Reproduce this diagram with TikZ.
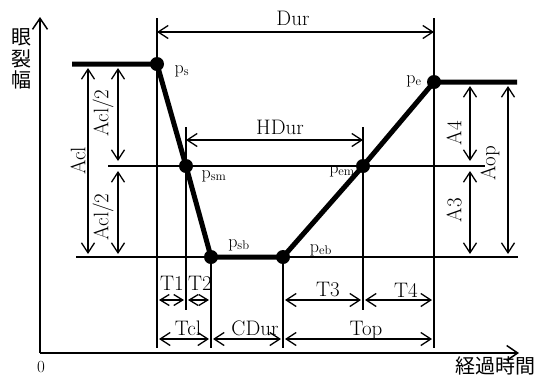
\documentclass[tikz,border=0pt]{standalone}
\usepackage{fontspec}
\newfontfamily\jpfont{Noto Sans CJK JP}
\usetikzlibrary{arrows.meta}
\begin{document}
\begin{tikzpicture}[x=1pt,y=-1pt,
  guide/.style={line width=1.3pt},
  curvethick/.style={line width=5pt,line join=round},
  axisline/.style={line width=1.5pt,-{Straight Barb[length=11pt,width=15pt]}},
  dim/.style={line width=1.3pt,{Straight Barb[length=10pt,width=13pt]}-{Straight Barb[length=10pt,width=13pt]}},
  smalldim/.style={line width=1.3pt,{Straight Barb[length=9pt,width=11pt]}-{Straight Barb[length=9pt,width=11pt]}},
  dot/.style={circle,fill=black,inner sep=0pt,minimum size=14pt},
  lbl/.style={font=\fontsize{21}{21}\selectfont,inner sep=0pt},
  plbl/.style={font=\fontsize{18}{18}\selectfont,inner sep=0pt},
  jplbl/.style={font=\jpfont\fontsize{20}{21.5}\selectfont,inner sep=0pt}]
\useasboundingbox (0,0) rectangle (538,376);
% key points
\coordinate (L) at (72,64);
\coordinate (ps) at (157,64);
\coordinate (psm) at (186,166);
\coordinate (psb) at (211,257);
\coordinate (peb) at (283,257);
\coordinate (pem) at (363,166);
\coordinate (pe) at (434,82);
\coordinate (R) at (517,82);
% helper levels
\coordinate (yTop) at (0,18);
\coordinate (yBot) at (0,348);
\coordinate (yDur) at (0,32);
\coordinate (yHtop) at (0,127);
\coordinate (yH) at (0,140);
\coordinate (yTend) at (0,310);
\coordinate (yT) at (0,300);
\coordinate (yTT) at (0,339);
\coordinate (mL) at (108,166);
\coordinate (mR) at (485,166);
\coordinate (bL) at (76,257);
\coordinate (bR) at (518,257);
% axes
\coordinate (O) at (40,353);
\coordinate (Ytip) at (40,17);
\coordinate (Xtip) at (519,353);
\draw[axisline] (O) -- (Ytip);
\draw[axisline] (O) -- (Xtip);
% guide lines
\draw[guide] (ps |- yTop) -- (ps |- yBot);
\draw[guide] (pe |- yTop) -- (pe |- yBot);
\draw[guide] (psm |- yHtop) -- (psm |- yTend);
\draw[guide] (pem |- yHtop) -- (pem |- yTend);
\draw[guide] (psb) -- (psb |- yBot);
\draw[guide] (peb) -- (peb |- yBot);
\draw[guide] (mL) -- (mR);
\draw[guide] (bL) -- (bR);
% thick curve
\draw[curvethick] (L) -- (ps) -- (psm) -- (psb) -- (peb) -- (pem) -- (pe) -- (R);
\foreach \p in {ps,psm,psb,peb,pem,pe} \node[dot] (\p-dot) at (\p) {};
% point labels
\node[plbl] (lps) at (182,71) {$\mathrm{p}_{\mathrm{s}}$};
\node[plbl] (lpsm) at (214,176) {$\mathrm{p}_{\mathrm{sm}}$};
\node[plbl] (lpsb) at (239,245) {$\mathrm{p}_{\mathrm{sb}}$};
\node[plbl] (lpeb) at (321,250) {$\mathrm{p}_{\mathrm{eb}}$};
\node[plbl] (lpem) at (342,171) {$\mathrm{p}_{\mathrm{em}}$};
\node[plbl] (lpe) at (414,81) {$\mathrm{p}_{\mathrm{e}}$};
% dimension arrows
\coordinate (aTop) at (0,68);
\coordinate (aBot) at (0,254);
\coordinate (aMu) at (0,161);
\coordinate (aMl) at (0,171);
\coordinate (bTop) at (0,86);
\coordinate (xAcl) at (88,0);
\coordinate (xAh) at (118,0);
\coordinate (xA4) at (470,0);
\coordinate (xAop) at (508,0);
\draw[dim] (ps |- yDur) -- (pe |- yDur);
\draw[dim] (psm |- yH) -- (pem |- yH);
\draw[dim] (xAcl |- aTop) -- (xAcl |- aBot);
\draw[dim] (xAh |- aTop) -- (xAh |- aMu);
\draw[dim] (xAh |- aMl) -- (xAh |- aBot);
\draw[dim] (xA4 |- bTop) -- (xA4 |- aMu);
\draw[dim] (xA4 |- aMl) -- (xA4 |- aBot);
\draw[dim] (xAop |- bTop) -- (xAop |- aBot);
\draw[smalldim] ([xshift=2pt]ps |- yT) -- ([xshift=-2pt]psm |- yT);
\draw[smalldim] ([xshift=2pt]psm |- yT) -- ([xshift=-2pt]psb |- yT);
\draw[dim] ([xshift=2pt]peb |- yT) -- ([xshift=-2pt]pem |- yT);
\draw[dim] ([xshift=2pt]pem |- yT) -- ([xshift=-2pt]pe |- yT);
\draw[dim] ([xshift=2pt]ps |- yTT) -- ([xshift=-2pt]psb |- yTT);
\draw[dim] ([xshift=2pt]psb |- yTT) -- ([xshift=-2pt]peb |- yTT);
\draw[dim] ([xshift=2pt]peb |- yTT) -- ([xshift=-2pt]pe |- yTT);
% dimension labels
\node[lbl] (tDur) at (293,18) {Dur};
\node[lbl] (tHDur) at (280,127) {HDur};
\node[lbl,rotate=90] (tAcl) at (78,161) {Acl};
\node[lbl,rotate=90] (tAh1) at (103,113) {Acl/2};
\node[lbl,rotate=90] (tAh2) at (103,217) {Acl/2};
\node[lbl,rotate=90] (tA4) at (454,133) {A4};
\node[lbl,rotate=90] (tA3) at (454,210) {A3};
\node[lbl,rotate=90] (tAop) at (490,163) {Aop};
\node[lbl] (tT1) at (172,283) {T1};
\node[lbl] (tT2) at (200,283) {T2};
\node[lbl] (tT3) at (328,290) {T3};
\node[lbl] (tT4) at (406,290) {T4};
\node[lbl] (tTcl) at (188,328) {Tcl};
\node[lbl] (tCDur) at (255,328) {CDur};
\node[lbl] (tTop) at (366,330) {Top};
% axis labels
\node[lbl,font=\fontsize{17}{17}\selectfont] (zero) at (41,367) {0};
\node[jplbl,align=center] (ylab) at (22,59) {眼\\裂\\幅};
\node[jplbl] (xlab) at (495,366) {経過時間};
\end{tikzpicture}
\end{document}
